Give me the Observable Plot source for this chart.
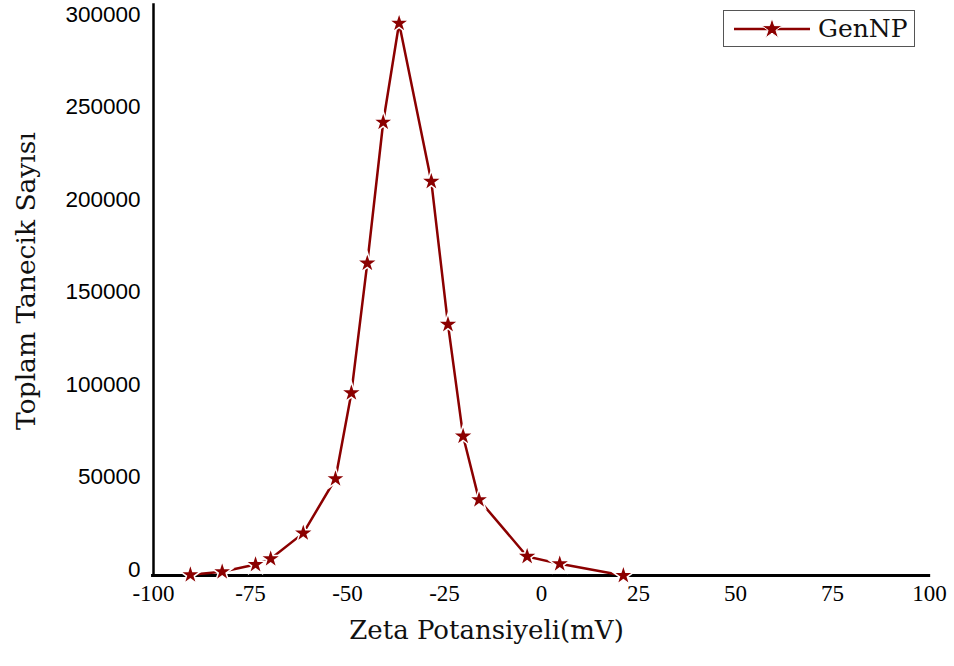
<!DOCTYPE html>
<html>
<head>
<meta charset="utf-8">
<script src="https://cdn.jsdelivr.net/npm/d3@7"></script>
<script src="https://cdn.jsdelivr.net/npm/@observablehq/plot@0.6"></script>
<style>
  html, body { margin: 0; padding: 0; background: #fff; }
  #wrap { position: relative; width: 954px; height: 666px; }
  #legend { position: absolute; left: 723px; top: 10px; width: 192px; height: 37px;
    border: 1px solid #555; background: #fff; box-sizing: border-box;
    display: flex; align-items: center; font-family: "DejaVu Serif", serif; font-size: 25px; color: #111; }
  #legend svg { margin-left: 10px; margin-right: 8px; }
</style>
</head>
<body>
<div id="wrap">
  <div id="chart"></div>
  <div id="legend"><svg width="76" height="20"><line x1="0" y1="10" x2="76" y2="10" stroke="#8b0000" stroke-width="2.5"/><path transform="translate(38,10)" fill="#8b0000" stroke="#fff" stroke-width="1"/></svg><span>GenNP</span></div>
</div>
<script>
// Data
const zeta = [-90.5, -82.3, -73.7, -69.8, -61.4, -53.1, -49.0, -44.9, -40.8, -36.7, -28.4, -24.1, -20.2, -16.1, -3.7, 4.7, 21.1];
const counts = [400, 2000, 5900, 9000, 22900, 52300, 98700, 168800, 245000, 298500, 213000, 135700, 75300, 40900, 10300, 6300, 0];
const xTicks = [-100, -75, -50, -25, 0, 25, 50, 75, 100];
const yTicks = [0, 50000, 100000, 150000, 200000, 250000, 300000];
const seriesName = "GenNP";
const xTitle = "Zeta Potansiyeli(mV)";
const yTitle = "Toplam Tanecik Sayısı";
const color = "#8b0000";

const data = zeta.map((z, i) => ({ z, c: counts[i] }));

const plot = Plot.plot({
  width: 954,
  height: 666,
  marginLeft: 153,
  marginRight: 25,
  marginTop: 20,
  marginBottom: 91,
  x: { domain: [-100, 100] },
  y: { domain: [0, 300000] },
  style: { background: "#fff", color: "#000" },
  marks: [
    Plot.axisY({ ticks: yTicks, tickSize: 0, tickPadding: 13, tickFormat: d => String(d),
      label: null, fontSize: 22.5, fontFamily: "Liberation Sans", dy: -6 }),
    Plot.axisX({ ticks: xTicks, tickSize: 0, tickPadding: 9, tickFormat: d => String(d),
      label: null, fontSize: 23, fontFamily: "Liberation Serif" }),
    Plot.ruleX([-100], { y1: 0, y2: 309000, stroke: "#000", strokeWidth: 2.5 }),
    Plot.ruleY([0], { x1: -100.5, x2: 100.3, stroke: "#000", strokeWidth: 3 }),
    Plot.line(data, { x: "z", y: "c", stroke: color, strokeWidth: 2.5 }),
    Plot.dot(data, { x: "z", y: "c", symbol: "star", r: 6.5, fill: color, stroke: "#fff", strokeWidth: 1.5 }),
    Plot.text([xTitle], { text: d => d, frameAnchor: "bottom", textAnchor: "middle", dx: -55, dy: 63,
      fontSize: 26, fontFamily: "DejaVu Serif", fill: "#111" }),
    Plot.text([yTitle], { text: d => d, frameAnchor: "left", textAnchor: "middle", dx: -127, dy: -17, rotate: -90,
      fontSize: 26.5, fontFamily: "DejaVu Serif", fill: "#111" })
  ]
});
document.getElementById("chart").appendChild(plot);

// legend star symbol using d3's star (same as Plot)
const starPath = d3.symbol(d3.symbolStar, Math.PI * 6.5 * 6.5)();
document.querySelector("#legend path").setAttribute("d", starPath);
document.querySelector("#legend span").textContent = seriesName;
</script>
</body>
</html>
